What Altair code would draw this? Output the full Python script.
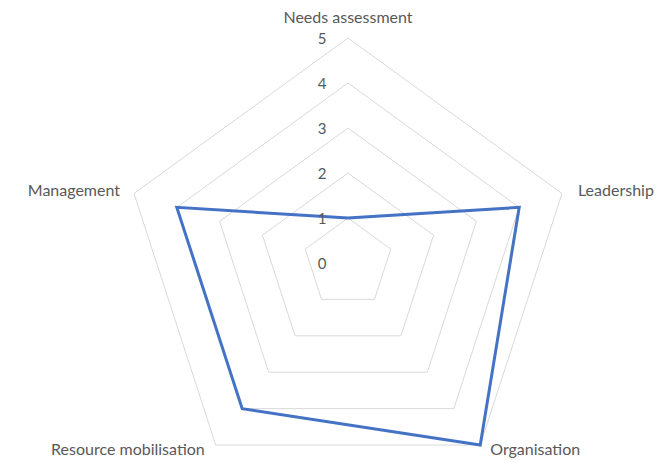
import numpy as np
import pandas as pd
import altair as alt

categories = ["Needs assessment", "Leadership", "Organisation", "Resource mobilisation", "Management"]
values = [1, 4, 5, 4, 4]
ticks = [0, 1, 2, 3, 4, 5]

n = len(categories)
angles = np.arange(n) * 2 * np.pi / n  # clockwise from top

W, H = 649, 450
CX, CY, UNIT = 340, 255, 45
xdom = [-CX / UNIT, (W - CX) / UNIT]
ydom = [-(H - CY) / UNIT, CY / UNIT]
xs = alt.Scale(domain=xdom, nice=False, zero=False)
ys = alt.Scale(domain=ydom, nice=False, zero=False)

# grid pentagons
rows = []
for lev in ticks[1:]:
    for i in range(n + 1):
        a = angles[i % n]
        rows.append({"level": lev, "o": i, "x": lev * np.sin(a), "y": lev * np.cos(a)})
grid = pd.DataFrame(rows)

# data polygon
drow = []
for i in range(n + 1):
    a = angles[i % n]
    v = values[i % n]
    drow.append({"o": i, "x": v * np.sin(a), "y": v * np.cos(a)})
poly = pd.DataFrame(drow)

tick_df = pd.DataFrame({"x": [0] * len(ticks), "y": ticks, "label": [str(t) for t in ticks]})

font = "Lato"
col = "#595959"

grid_layer = alt.Chart(grid).mark_line(color="#d9d9d9", strokeWidth=1).encode(
    x=alt.X("x:Q", scale=xs, axis=None),
    y=alt.Y("y:Q", scale=ys, axis=None),
    detail="level:N",
    order="o:Q",
)

poly_layer = alt.Chart(poly).mark_line(color="#4472C4", strokeWidth=3, strokeJoin="miter").encode(
    x=alt.X("x:Q", scale=xs, axis=None),
    y=alt.Y("y:Q", scale=ys, axis=None),
    order="o:Q",
)

tick_layer = alt.Chart(tick_df).mark_text(font=font, fontSize=15, color=col, dx=-26, dy=1).encode(
    x=alt.X("x:Q", scale=xs, axis=None),
    y=alt.Y("y:Q", scale=ys, axis=None),
    text="label:N",
)

label_layers = []
rmax = max(ticks)
for i, c in enumerate(categories):
    a = angles[i]
    s, co = np.sin(a), np.cos(a)
    if abs(s) < 1e-6:
        align, dx, dy = "center", 0, -20
    elif co > 0:
        align = "left" if s > 0 else "right"
        dx, dy = (16 if s > 0 else -14), -2
    else:
        align = "left" if s > 0 else "right"
        dx, dy = (10 if s > 0 else -11), 5
    df = pd.DataFrame({"x": [rmax * s], "y": [rmax * co], "label": [c]})
    label_layers.append(
        alt.Chart(df).mark_text(font=font, fontSize=16, color=col, align=align, dx=dx, dy=dy).encode(
            x=alt.X("x:Q", scale=xs, axis=None),
            y=alt.Y("y:Q", scale=ys, axis=None),
            text="label:N",
        )
    )

chart = alt.layer(grid_layer, poly_layer, tick_layer, *label_layers).properties(
    width=W, height=H, padding=0, autosize=alt.AutoSizeParams(type="none"), background="white"
).configure_view(stroke=None)

chart.save("out.html", embed_options={"renderer": "svg", "actions": False})
